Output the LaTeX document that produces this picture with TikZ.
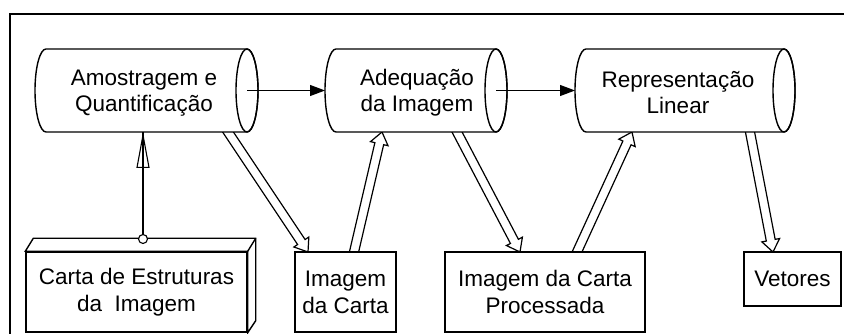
\documentclass[tikz,border=0pt]{standalone}
\usepackage{fontspec}
\setmainfont{Liberation Sans}
\usetikzlibrary{calc,arrows.meta}
\pgfdeclarelayer{bg}
\pgfsetlayers{bg,main}
\tikzset{
  frameline/.style={line width=1.8pt},
  boxnode/.style={draw, line width=1.4pt, fill=white, inner sep=0pt, align=center,
    font=\fontsize{22.5}{27}\selectfont},
  cyltext/.style={inner sep=0pt, align=center, font=\fontsize{22.5}{26}\selectfont},
  cylline/.style={draw, line width=1.4pt, fill=white},
  flowarrow/.style={line width=1.1pt, -{Triangle[length=15pt,width=11pt]}},
  hollowline/.style={line width=1.2pt, fill=white, line join=miter},
  linkarrow/.style={line width=1.1pt, -{Triangle[open,length=36pt,width=13pt]}}
}
\newcommand{\cylout}[4]{% xl, xr, name-prefix, rx
  \draw[cylline] (#2,285) -- (#1,285) arc[start angle=90,end angle=270,x radius=#4,y radius=41.5]
     -- (#2,202) arc[start angle=-90,end angle=90,x radius=#4,y radius=41.5] -- cycle;
  \draw[line width=1.4pt] (#2,243.5) ellipse[x radius=#4, y radius=41.5];
}
\newcommand{\hollowarr}[2]{%
  \coordinate (hT) at ($(#1)!-4pt!(#2)$);
  \coordinate (hH) at ($(#2)!12pt!(#1)$);
  \draw[hollowline] ($(hT)!4.5pt!90:(#2)$) -- ($(hH)!4.5pt!-90:(hT)$) -- ($(hH)!9pt!-90:(hT)$)
    -- (#2) -- ($(hH)!9pt!90:(hT)$) -- ($(hH)!4.5pt!90:(hT)$) -- ($(hT)!4.5pt!-90:(#2)$) -- cycle;
}
\begin{document}
\begin{tikzpicture}[x=1pt,y=1pt]
\useasboundingbox (0,0) rectangle (844,334);
% frame
\draw[frameline] (10,-5) -- (10,320) -- (850,320);
% cylinders
\cylout{46}{247}{c1}{11}
\cylout{336}{496}{c2}{11}
\cylout{586}{784}{c3}{11}
\node[cyltext] (c1) at (144,241) {Amostragem e\\Quantificação};
\node[cyltext] (c2) at (417,241) {Adequação\\da Imagem};
\node[cyltext] (c3) at (678,241) {Representação\\Linear};
% cylinder anchor coordinates
\coordinate (c1e) at (247,243.5);
\coordinate (c2w) at (325,243.5);
\coordinate (c2e) at (496,243.5);
\coordinate (c3w) at (575,243.5);
\coordinate (c1b) at (143,202);
\coordinate (c1bo) at (228,202);
\coordinate (c2bi) at (382,202);
\coordinate (c2bo) at (457,202);
\coordinate (c3bi) at (632,202);
\coordinate (c3bo) at (750,202);
% boxes
\node[boxnode, minimum width=221pt, minimum height=80pt] (b1) at (136.5,42) {Carta de Estruturas\\da\ \ Imagem};
\draw[line width=1.4pt, fill=white] (b1.north west) -- ([shift={(8,13)}]b1.north west)
  -- ([shift={(8,13)}]b1.north east) -- ([shift={(8,12)}]b1.south east) -- (b1.south east)
  -- (b1.north east) -- cycle;
\draw[line width=1.4pt] (b1.north east) -- ([shift={(8,13)}]b1.north east);
\node[boxnode, minimum width=101pt, minimum height=80pt] (b2) at (345.5,42) {Imagem\\da Carta};
\node[boxnode, minimum width=200pt, minimum height=80pt] (b3) at (545,42) {Imagem da Carta\\Processada};
\node[boxnode, minimum width=97pt, minimum height=54pt] (b4) at (792.5,55) {Vetores};
\coordinate (b1t) at (143,95);
\coordinate (b2in) at (308,82);
\coordinate (b2out) at (354,82);
\coordinate (b3in) at (520,82);
\coordinate (b3out) at (577,82);
\coordinate (b4in) at (773,82);
% flow arrows
\draw[flowarrow] (c1e) -- (c2w);
\draw[flowarrow] (c2e) -- (c3w);
% link arrow with circle
\draw[line width=1.1pt] (b1t) -- (c1b);
\draw[linkarrow] ([yshift=4.5pt]b1t) -- (c1b);
\draw[line width=1.1pt, fill=white] (b1t) circle[radius=4.5pt];
% hollow arrows
\begin{pgfonlayer}{bg}
\hollowarr{c1bo}{b2in}
\hollowarr{b2out}{c2bi}
\hollowarr{c2bo}{b3in}
\hollowarr{b3out}{c3bi}
\hollowarr{c3bo}{b4in}
\end{pgfonlayer}
\end{tikzpicture}
\end{document}
